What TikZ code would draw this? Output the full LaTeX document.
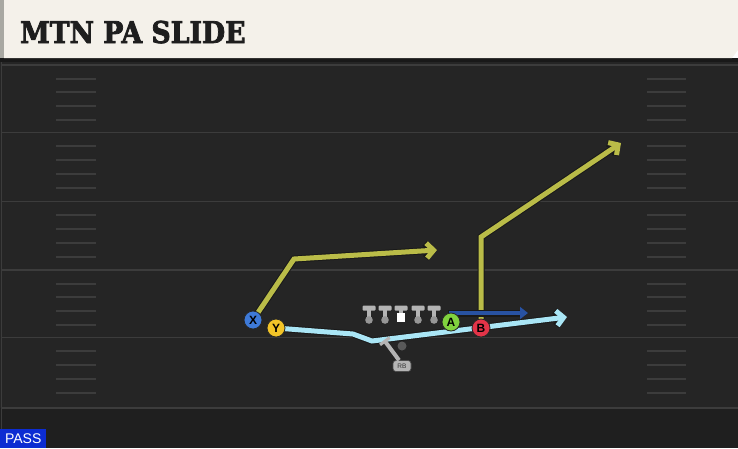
\documentclass[tikz,border=0pt]{standalone}
\usepackage{fontspec}
\newfontfamily\titlefont{DejaVu Serif}[FakeStretch=0.89, FakeBold=2.5]
\newfontfamily\labelfont{Liberation Sans}
\usetikzlibrary{arrows.meta,calc,positioning,backgrounds}
\definecolor{fieldbg}{RGB}{37,37,37}
\definecolor{fieldlow}{RGB}{31,31,31}
\definecolor{yardline}{RGB}{60,60,60}
\definecolor{cream}{RGB}{244,241,234}
\definecolor{barside}{RGB}{168,168,162}
\definecolor{titleink}{RGB}{30,30,30}
\definecolor{olive}{RGB}{186,188,72}
\definecolor{skyroute}{RGB}{170,230,246}
\definecolor{navyroute}{RGB}{40,82,162}
\definecolor{xblue}{RGB}{62,122,216}
\definecolor{yyellow}{RGB}{242,196,40}
\definecolor{agreen}{RGB}{128,210,62}
\definecolor{bred}{RGB}{226,52,72}
\definecolor{linegray}{RGB}{180,180,180}
\definecolor{ballgray}{RGB}{150,150,150}
\definecolor{passblue}{RGB}{12,44,210}
\tikzset{
    player/.style={circle, draw=black!85, line width=0.8pt, minimum size=18pt,
        inner sep=0pt, font=\labelfont\bfseries\fontsize{12}{12}\selectfont},
    route/.style={line width=5pt, draw=#1,
        preaction={draw=black!90, line width=7pt}},
    routetip/.style={-{Straight Barb[length=7pt,width=15pt]}},
    rbbox/.style={rectangle, rounded corners=3pt, fill=linegray, draw=black!70,
        line width=0.6pt, minimum width=18pt, minimum height=11pt, inner sep=0pt,
        text=black!80, font=\labelfont\fontsize{6.5}{6.5}\selectfont},
    hashmark/.style={yardline, line width=2pt},
}

\begin{document}
\begin{tikzpicture}[x=1pt,y=-1pt]
    \useasboundingbox (0,0) rectangle (738,448);

    \begin{scope}[on background layer]
    % Draw field.
    \fill[fieldbg] (0,58) rectangle (738,448);
    \fill[fieldlow] (0,408) rectangle (738,448);
    \fill[black!90] (0,58) rectangle (738,62);
    \draw[yardline, line width=1pt] (1,62) -- (1,448);
    \foreach \L in {65,132.7,201.7,270,337.7,408}
        \draw[yardline, line width=1.5pt] (2,\L) -- (738,\L);

    % Draw hash marks.
    \foreach \L in {65,132.7,201.7,270,337.7}
        \foreach \k in {1,2,3,4} {
            \draw[hashmark] (56,\L+13.7*\k) -- (96,\L+13.7*\k);
            \draw[hashmark] (647,\L+13.7*\k) -- (686,\L+13.7*\k);
        }
    \end{scope}

    % Draw title bar.
    \fill[cream] (4,0) -- (738,0) -- (738,50) -- (732,58) -- (4,58) -- cycle;
    \fill[barside] (0,0) rectangle (4,58);
    \node[anchor=base west, text=titleink, inner sep=0pt,
        font=\titlefont\bfseries\fontsize{30}{30}\selectfont] (title) at (20,43) {MTN PA SLIDE};

    % Draw play type tag.
    \node[anchor=south west, fill=passblue, text=white, minimum width=46pt,
        minimum height=19pt, inner sep=0pt,
        font=\labelfont\fontsize{14}{14}\selectfont] (playtype) at (0,448) {PASS};

    % Draw skill players.
    \node[player, fill=xblue] (playerX) at (253,320) {X};
    \node[player, fill=yyellow] (playerY) at (276,328) {Y};
    \node[player, fill=agreen] (playerA) at (451,322) {A};
    \node[player, fill=bred] (playerB) at (481,328) {B};

    % Draw offensive line.
    \foreach \x in {369,385,401,418,434} {
        \fill[linegray, rounded corners=1pt] (\x-6.5,305.5) rectangle (\x+6.5,310.5);
        \fill[linegray] (\x-2.2,310) rectangle (\x+2.2,318);
    }
    \foreach \x in {369,385,418,434}
        \fill[ballgray] (\x,320) circle (3.8);
    \fill[white] (397,313) rectangle (405,322);

    % Draw running back and play fake.
    \node[circle, fill=gray!70!black, minimum size=9pt, inner sep=0pt] (qbspot) at (402,346) {};
    \node[rbbox] (rb) at (402,366) {RB};
    \coordinate (fake) at (384,340);

    \begin{scope}[on background layer]
    % Draw routes.
    \coordinate (xbreak) at (294,259);
    \coordinate (xend) at (437,250);
    \draw[route=olive, routetip] (playerX.center) -- (xbreak) -- (xend);

    \coordinate (bbreak) at (481,237);
    \coordinate (bend) at (621,143);
    \draw[route=olive, routetip] (playerB.center) -- (bbreak) -- (bend);

    \coordinate (ybreak) at (353,334);
    \coordinate (ydip) at (372,341);
    \coordinate (yend) at (567,317);
    \draw[route=skyroute, routetip] (playerY.center) -- (ybreak) -- (ydip) -- (yend);

    \coordinate (aend) at (528,313);
    \draw[route=navyroute, line width=4pt, -{Triangle[length=8pt,width=12pt]}] (playerA.center) |- (aend);
    \end{scope}

    \draw[linegray, line width=4pt, -{Bar[width=12pt,line width=3pt]}]
        ($(rb.north)+(-3,0)$) -- (fake);
\end{tikzpicture}
\end{document}
